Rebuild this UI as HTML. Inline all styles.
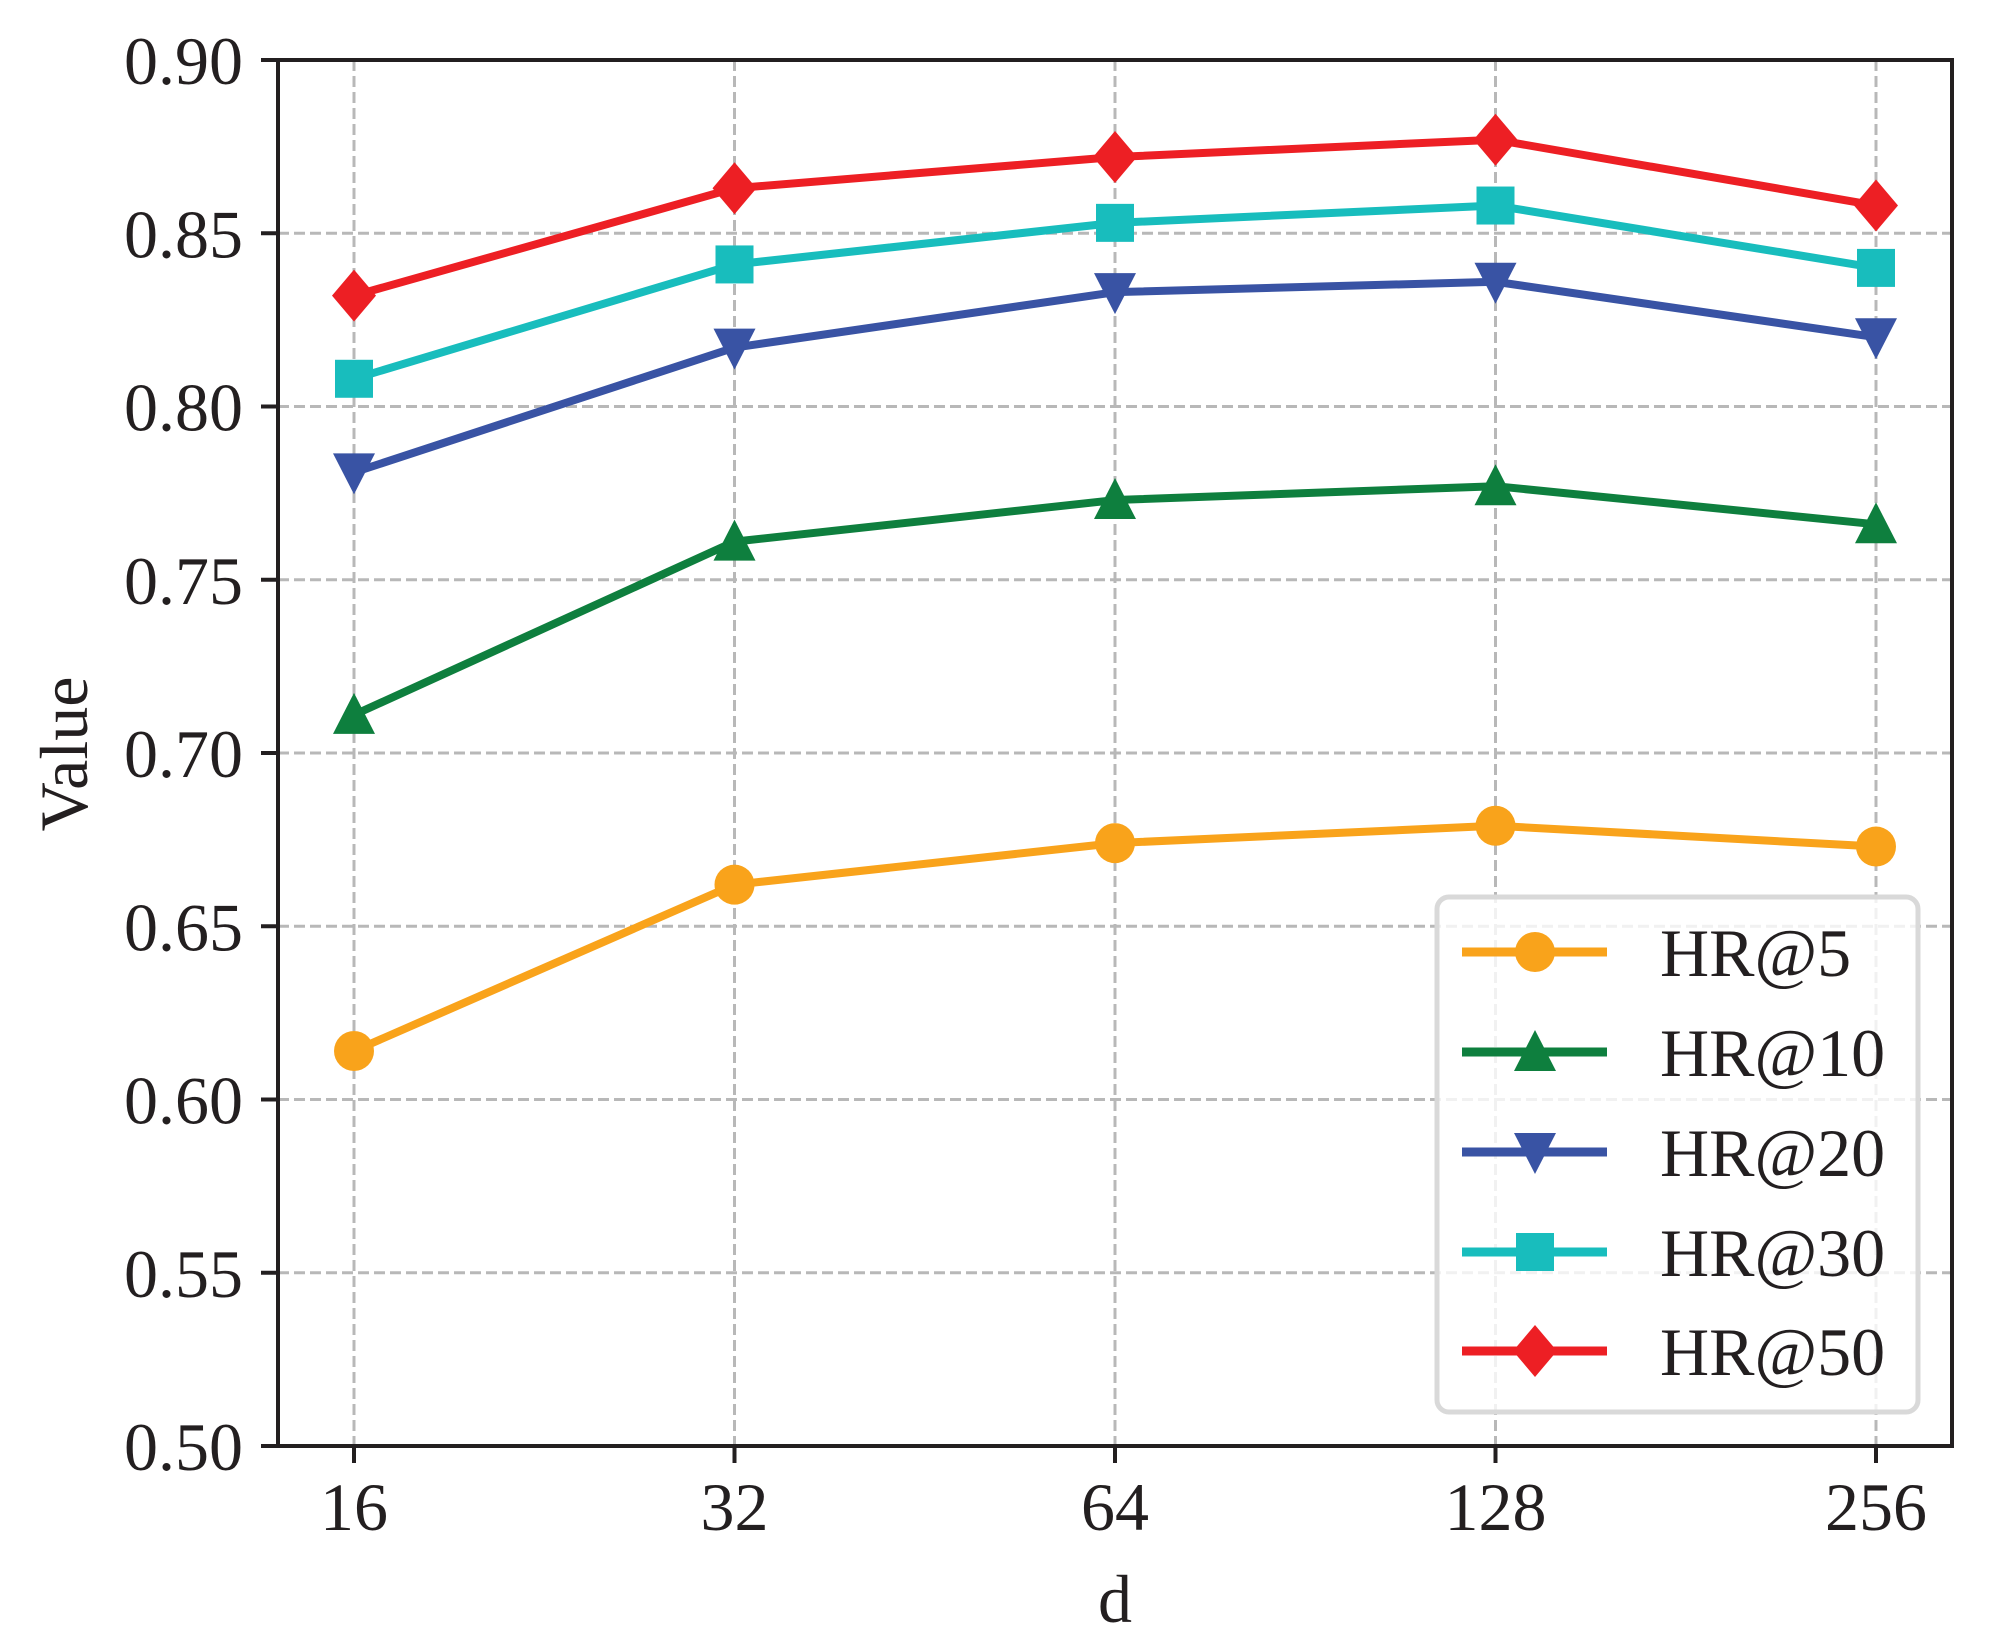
<!DOCTYPE html>
<html><head><meta charset="utf-8"><style>
html,body{margin:0;padding:0;background:#fff;}
svg{display:block;}
svg text{font-family:"Liberation Serif","Times New Roman",Times,serif;}
</style></head><body>
<svg id="chart" width="1993" height="1644" viewBox="0 0 1993 1644" xmlns="http://www.w3.org/2000/svg">
<g id="grid"></g>
<g id="series"></g>
<rect x="278" y="60" width="1674" height="1386" fill="none" stroke="#231f20" stroke-width="4"/>
<g id="ticks"></g>
<text x="87" y="754" font-size="68" fill="#231f20" text-anchor="middle" transform="rotate(-90 87 754)">Value</text>
<text x="1115" y="1622" font-size="68" fill="#231f20" text-anchor="middle">d</text>
<g id="legend"></g>
</svg>
<script>
const categories = ["16","32","64","128","256"];
const yTicks = [0.50,0.55,0.60,0.65,0.70,0.75,0.80,0.85,0.90];
const seriesNames = ["HR@5","HR@10","HR@20","HR@30","HR@50"];
const hr5  = [0.614,0.662,0.674,0.679,0.673];
const hr10 = [0.711,0.761,0.773,0.777,0.766];
const hr20 = [0.781,0.817,0.833,0.836,0.820];
const hr30 = [0.808,0.841,0.853,0.858,0.840];
const hr50 = [0.832,0.863,0.872,0.877,0.858];

const NS="http://www.w3.org/2000/svg";
const X0=354, DX=380.5, YTOP=60, YBOT=1446, VMIN=0.5, VMAX=0.9;
function xs(i){return X0+i*DX;}
function ys(v){return YBOT-(v-VMIN)/(VMAX-VMIN)*(YBOT-YTOP);}
function mk(tag,attrs,parent){const e=document.createElementNS(NS,tag);for(const k in attrs)e.setAttribute(k,attrs[k]);parent.appendChild(e);return e;}
const grid=document.getElementById('grid'),ticks=document.getElementById('ticks'),ser=document.getElementById('series'),leg=document.getElementById('legend');

categories.forEach((c,i)=>{
  const g=mk('line',{x1:xs(i),x2:xs(i),y1:YTOP,y2:YBOT,stroke:'#b8b8b8','stroke-width':3,'stroke-dasharray':'11 5'},grid);
  
  
  const t=mk('line',{x1:xs(i),x2:xs(i),y1:YBOT,y2:YBOT+17,stroke:'#231f20','stroke-width':4},ticks);
  
  
  const l=mk('text',{x:xs(i),y:1530,'font-size':68,fill:'#231f20','text-anchor':'middle'},ticks);
  l.textContent=c;
  
  
});
yTicks.forEach(v=>{
  const y=ys(v);
  const g=mk('line',{x1:278,x2:1952,y1:y,y2:y,stroke:'#b8b8b8','stroke-width':3,'stroke-dasharray':'11 5'},grid);
  
  
  const t=mk('line',{x1:261,x2:278,y1:y,y2:y,stroke:'#231f20','stroke-width':4},ticks);
  
  
  const l=mk('text',{x:243,y:y+24,'font-size':68,fill:'#231f20','text-anchor':'end'},ticks);
  l.textContent=v.toFixed(2);
  
  
});

const colors=['#F9A31B','#0E7F3E','#3953A4','#18BDBD','#ED1F24'];
const markers=['circle','tri-up','tri-down','square','diamond'];
const data=[hr5,hr10,hr20,hr30,hr50];
function marker(type,cx,cy,color,parent){
  let e;
  if(type==='circle') e=mk('circle',{cx:cx,cy:cy,r:20,fill:color},parent);
  else if(type==='square') e=mk('rect',{x:cx-19,y:cy-19,width:38,height:38,fill:color},parent);
  else if(type==='tri-up') e=mk('polygon',{points:`${cx},${cy-22} ${cx+21},${cy+19} ${cx-21},${cy+19}`,fill:color},parent);
  else if(type==='tri-down') e=mk('polygon',{points:`${cx},${cy+22} ${cx+21},${cy-19} ${cx-21},${cy-19}`,fill:color},parent);
  else e=mk('polygon',{points:`${cx},${cy-26} ${cx+22},${cy} ${cx},${cy+26} ${cx-22},${cy}`,fill:color},parent);
  return e;
}
data.forEach((arr,s)=>{
  const g=mk('g',{},ser);
  
  
  const p=mk('polyline',{points:arr.map((v,i)=>xs(i)+','+ys(v)).join(' '),fill:'none',stroke:colors[s],'stroke-width':8,'stroke-linejoin':'round'},g);
  
  
  arr.forEach((v,i)=>{
    const m=marker(markers[s],xs(i),ys(v),colors[s],g);
    
    
  });
});

const box=mk('rect',{x:1437,y:897,width:481,height:515,rx:12,fill:'#fff','fill-opacity':0.8,stroke:'#d9d9d9','stroke-width':5},leg);


const legY=[952,1052,1152,1252,1351];
seriesNames.forEach((n,s)=>{
  const g=mk('g',{},leg);
  
  
  mk('line',{x1:1462,x2:1607,y1:legY[s],y2:legY[s],stroke:colors[s],'stroke-width':9},g);
  marker(markers[s],1535,legY[s],colors[s],g);
  const t=mk('text',{x:1660,y:legY[s]+24,'font-size':68,fill:'#231f20'},g);
  t.textContent=n;
  
  
});
</script>
</body></html>
